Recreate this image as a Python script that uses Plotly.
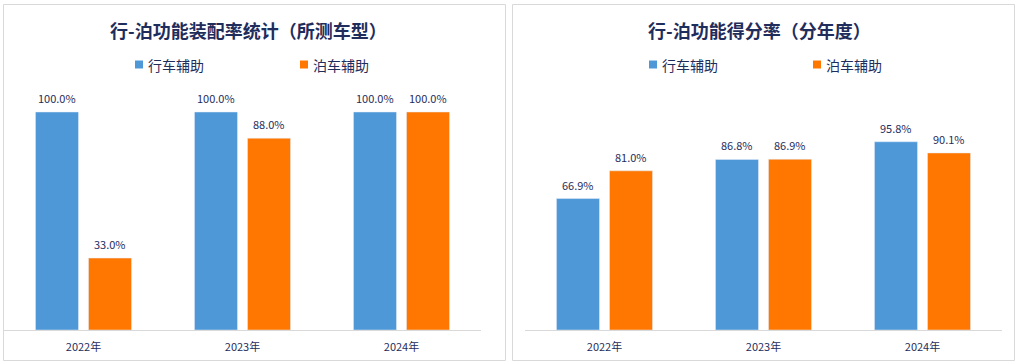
import plotly.graph_objects as go

W, H = 1018, 364

categories = ["2022年", "2023年", "2024年"]
series_names = ["行车辅助", "泊车辅助"]
left_driving = [100.0, 100.0, 100.0]
left_parking = [33.0, 88.0, 100.0]
right_driving = [66.9, 86.8, 95.8]
right_parking = [81.0, 86.9, 90.1]
left_title = "行-泊功能装配率统计（所测车型）"
right_title = "行-泊功能得分率（分年度）"

BLUE = "#4E98D8"
ORANGE = "#FF7700"
NAVY = "#1F2D5C"
GRID = "#D9D9D9"
FONT = "Noto Sans CJK SC"

def px(x):
    return x / W

def py(y):
    return 1 - y / H

fig = go.Figure()

panels = [
    dict(xa="x", ya="y", drv=left_driving, prk=left_parking),
    dict(xa="x2", ya="y2", drv=right_driving, prk=right_parking),
]
for p in panels:
    fig.add_trace(go.Bar(x=categories, y=p["drv"], name=series_names[0], marker_color=BLUE,
                         xaxis=p["xa"], yaxis=p["ya"], showlegend=False))
    fig.add_trace(go.Bar(x=categories, y=p["prk"], name=series_names[1], marker_color=ORANGE,
                         xaxis=p["xa"], yaxis=p["ya"], showlegend=False))

annotations = []
for p in panels:
    for vals, shift in ((p["drv"], -26.5), (p["prk"], 26.5)):
        for c, v in zip(categories, vals):
            annotations.append(dict(x=c, y=v, xref=p["xa"], yref=p["ya"], text=f"{v:.1f}%",
                                    showarrow=False, xshift=shift, yshift=14, yanchor="middle",
                                    font=dict(family=FONT, size=11, color=NAVY)))

# titles
annotations.append(dict(x=px(248), y=py(30), xref="paper", yref="paper", text=f"<b>{left_title}</b>",
                        showarrow=False, xanchor="center", yanchor="middle",
                        font=dict(family=FONT, size=18, color=NAVY)))
annotations.append(dict(x=px(759), y=py(30), xref="paper", yref="paper", text=f"<b>{right_title}</b>",
                        showarrow=False, xanchor="center", yanchor="middle",
                        font=dict(family=FONT, size=18, color=NAVY)))

shapes = []
# panel borders
for x0, x1 in ((3.5, 505.5), (512.5, 1014.5)):
    shapes.append(dict(type="rect", xref="paper", yref="paper", x0=px(x0), x1=px(x1), y0=py(360.5), y1=py(4.5),
                       line=dict(color=GRID, width=1), fillcolor="rgba(0,0,0,0)", layer="below"))

# manual legends
legend_pos = [((135, 147), (300, 312)), ((649, 661), (813, 825))]
for items in legend_pos:
    for (sx, tx), name, col in zip(items, series_names, (BLUE, ORANGE)):
        shapes.append(dict(type="rect", xref="paper", yref="paper", x0=px(sx), x1=px(sx + 8),
                           y0=py(68.5), y1=py(60.5), line=dict(width=0), fillcolor=col))
        annotations.append(dict(x=px(tx - 1), y=py(65), xref="paper", yref="paper", text=name,
                                showarrow=False, xanchor="left", yanchor="middle",
                                font=dict(family=FONT, size=14, color=NAVY)))

axis_common = dict(showgrid=False, zeroline=False, showline=True, linecolor=GRID, linewidth=1,
                   ticks="", ticklabelstandoff=7,
                   tickfont=dict(family=FONT, size=11, color=NAVY), fixedrange=True)
yaxis_common = dict(showgrid=False, zeroline=False, showline=False, showticklabels=False,
                    ticks="", fixedrange=True)

fig.update_layout(
    width=W, height=H,
    margin=dict(l=0, r=0, t=0, b=0),
    paper_bgcolor="white", plot_bgcolor="white",
    barmode="group", bargap=0.333, bargroupgap=0.189,
    xaxis=dict(domain=[px(4), px(481)], anchor="y", **axis_common),
    xaxis2=dict(domain=[px(525), px(1002)], anchor="y2", **axis_common),
    yaxis=dict(domain=[py(330), py(330 - 218 * 1.2)], range=[0, 120], anchor="x", **yaxis_common),
    yaxis2=dict(domain=[py(330), py(330 - 196.5 * 1.2)], range=[0, 120], anchor="x2", **yaxis_common),
    annotations=annotations,
    shapes=shapes,
    showlegend=False,
)

fig.write_html("out.html", config={"displayModeBar": False},
               post_script="document.body.style.margin='0';document.body.style.overflow='hidden';")
